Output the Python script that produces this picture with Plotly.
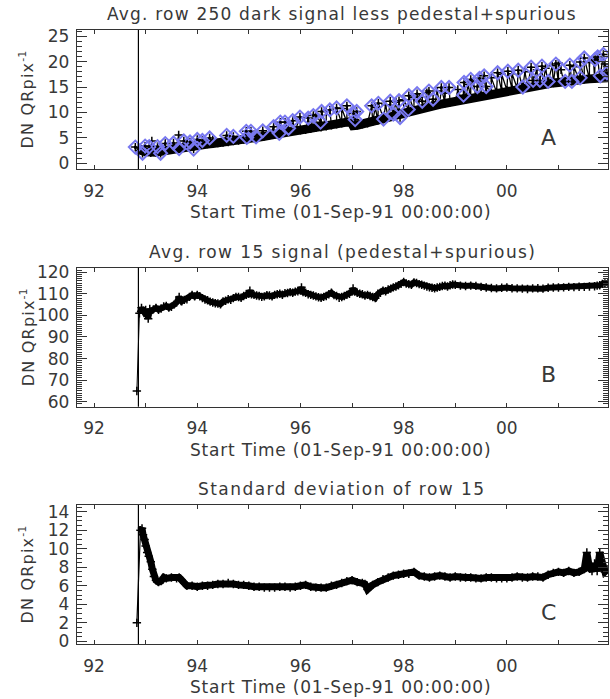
import plotly.graph_objects as go
from plotly.subplots import make_subplots

# ---------------- data ----------------
# Panel A: dark signal band (black) and flagged points (blue diamonds)
a_band_year = [92.86, 92.9, 93.0, 93.1, 93.2, 93.3, 93.4, 93.5, 93.6, 93.7, 93.8, 93.9, 94.0, 94.1, 94.2, 94.3,
               94.4, 94.5, 94.6, 94.7, 94.8, 94.9, 95.0, 95.1, 95.2, 95.3, 95.4, 95.5, 95.6, 95.7,
               95.8, 95.9, 96.0, 96.1, 96.2, 96.3, 96.4, 96.5, 96.6, 96.7, 96.8, 96.9, 96.98, 97.02,
               97.1, 97.2, 97.3, 97.4, 97.5, 97.6, 97.7, 97.8, 97.9, 98.0, 98.1, 98.2, 98.3, 98.4,
               98.5, 98.6, 98.7, 98.8, 98.9, 99.0, 99.1, 99.2, 99.3, 99.4, 99.5, 99.6, 99.7, 99.8,
               99.9, 100.0, 100.1, 100.2, 100.3, 100.4, 100.5, 100.6, 100.7, 100.8, 100.9, 101.0,
               101.1, 101.2, 101.3, 101.4, 101.5, 101.6, 101.7, 101.8, 101.9, 101.96]
a_band_val = [3.0, 2.6, 2.3, 2.1, 2.2, 2.4, 2.6, 2.7, 2.9, 3.1, 3.3, 3.5, 3.6, 3.7, 3.8, 3.9,
              4.0, 4.1, 4.2, 4.4, 4.5, 4.7, 4.8, 5.0, 5.2, 5.3, 5.5, 5.7, 5.9, 6.0,
              6.2, 6.4, 6.5, 6.6, 6.8, 7.0, 7.1, 7.3, 7.5, 7.7, 7.9, 8.1, 8.2, 7.4,
              7.5, 7.7, 7.9, 8.2, 8.4, 8.7, 9.0, 9.3, 9.6, 9.9, 10.1, 10.4, 10.6, 10.9,
              11.1, 11.4, 11.6, 11.8, 12.0, 12.2, 12.4, 12.6, 12.8, 13.0, 13.3, 13.5, 13.8, 14.0,
              14.2, 14.4, 14.6, 14.8, 15.0, 15.1, 15.3, 15.4, 15.6, 15.7, 15.8, 15.9,
              16.1, 16.2, 16.3, 16.4, 16.5, 16.6, 16.6, 16.7, 16.8, 16.8]
a_diam_year = [92.80, 92.94, 92.99, 93.07, 93.23, 93.29, 93.38, 93.54, 93.65, 93.74, 93.86, 93.93,
               94.00, 94.10, 94.24, 94.57, 94.70, 94.95, 94.96, 95.04, 95.14, 95.27, 95.48, 95.59,
               95.61, 95.70, 95.77, 95.85, 95.99, 96.15, 96.25, 96.39, 96.41, 96.57, 96.70, 96.90,
               97.03, 97.06, 97.09, 97.38, 97.51, 97.61, 97.74, 97.80, 97.91, 97.93, 98.09, 98.10,
               98.26, 98.36, 98.49, 98.57, 98.73, 98.88, 99.16, 99.17, 99.30, 99.43, 99.47, 99.56,
               99.60, 99.82, 100.02, 100.22, 100.31, 100.47, 100.51, 100.64, 100.68, 100.80, 100.95,
               101.13, 101.22, 101.26, 101.42, 101.42, 101.50, 101.71, 101.76, 101.81, 101.87, 101.94]
a_diam_val = [3.2, 2.0, 3.4, 3.3, 3.3, 2.0, 3.9, 4.0, 2.9, 4.4, 4.2, 2.8,
              4.7, 4.5, 5.0, 5.5, 5.3, 6.3, 5.1, 6.3, 5.2, 6.4, 7.2, 5.9,
              8.1, 8.1, 6.9, 8.4, 9.1, 8.9, 9.4, 8.1, 10.2, 10.5, 10.9, 11.3,
              9.8, 8.6, 10.2, 11.3, 11.8, 8.7, 12.2, 9.7, 12.3, 9.0, 10.6, 13.3,
              13.7, 12.2, 14.2, 12.6, 14.9, 14.9, 13.4, 15.9, 16.5, 15.1, 16.7, 17.2,
              15.1, 17.8, 18.1, 18.3, 15.0, 18.9, 16.3, 16.3, 19.1, 16.1, 19.5,
              16.1, 19.3, 16.1, 16.8, 19.9, 20.7, 20.4, 20.9, 17.2, 21.4, 17.8]
# black points above the band that carry no diamond
a_spike_year = [93.12, 93.64, 93.80, 94.30, 96.30, 96.50, 96.80, 97.45, 97.65, 97.85, 98.00, 98.20,
                98.30, 98.45, 98.65, 98.80, 99.05, 99.25, 99.35, 99.50, 99.70, 99.90, 100.10, 100.35,
                100.58, 100.75, 100.88, 101.00, 101.05, 101.30, 101.60, 101.68, 101.90]
a_spike_val = [4.4, 5.6, 4.0, 4.6, 9.6, 10.2, 10.8, 11.0, 11.5, 12.0, 12.5, 13.0,
               13.0, 13.9, 14.2, 13.8, 14.5, 15.5, 16.0, 15.8, 16.8, 17.5, 17.6, 18.0,
               18.4, 18.7, 19.2, 19.7, 18.4, 19.0, 19.8, 20.2, 19.5]

# Panel B: average row 15 signal
b_year = [92.83, 92.88, 92.92, 92.97, 93.0, 93.05, 93.08, 93.1, 93.15, 93.2, 93.25, 93.3, 93.35, 93.4,
          93.45, 93.5, 93.55, 93.6, 93.65, 93.7, 93.75, 93.8, 93.85, 93.9, 93.95, 94.0, 94.05, 94.1,
          94.15, 94.2, 94.25, 94.3, 94.35, 94.4, 94.45, 94.5, 94.55, 94.6, 94.65, 94.7, 94.75, 94.8,
          94.85, 94.9, 94.95, 95.0, 95.02, 95.05, 95.1, 95.15, 95.2, 95.25, 95.3, 95.35, 95.4, 95.45,
          95.5, 95.55, 95.6, 95.65, 95.7, 95.75, 95.8, 95.85, 95.9, 95.95, 96.0, 96.02, 96.05, 96.1,
          96.15, 96.2, 96.25, 96.3, 96.35, 96.4, 96.45, 96.5, 96.55, 96.6, 96.65, 96.7, 96.75, 96.8,
          96.85, 96.9, 96.95, 97.0, 97.02, 97.05, 97.1, 97.15, 97.2, 97.25, 97.3, 97.35, 97.4, 97.45,
          97.5, 97.55, 97.6, 97.65, 97.7, 97.75, 97.8, 97.85, 97.9, 97.95, 98.0, 98.05, 98.1, 98.15,
          98.2, 98.25, 98.3, 98.35, 98.4, 98.45, 98.5, 98.55, 98.6, 98.65, 98.7, 98.75, 98.8, 98.85,
          98.9, 98.95, 99.0, 99.1, 99.2, 99.3, 99.4, 99.5, 99.6, 99.7, 99.8, 99.9, 100.0, 100.1,
          100.2, 100.3, 100.4, 100.5, 100.6, 100.7, 100.8, 100.9, 101.0, 101.1, 101.2, 101.3,
          101.4, 101.5, 101.6, 101.7, 101.75, 101.8, 101.85, 101.9, 101.96]
b_val = [65.0, 101.0, 103.5, 101.5, 102.5, 98.5, 103.0, 101.8, 102.8, 103.5, 102.6, 103.2, 104.2, 104.4,
         103.6, 104.0, 105.0, 106.0, 108.5, 106.5, 107.2, 107.5, 108.6, 109.5, 108.8, 109.5, 108.9, 108.0,
         107.4, 107.0, 106.4, 106.0, 105.6, 105.5, 105.2, 106.5, 106.8, 107.5, 107.2, 108.0, 108.6, 108.5,
         108.2, 109.0, 109.6, 110.0, 111.5, 109.8, 109.5, 109.2, 109.0, 108.6, 108.8, 109.4, 109.2, 108.8,
         109.5, 109.8, 110.0, 109.6, 110.3, 110.4, 110.8, 110.5, 111.0, 111.2, 111.5, 113.0, 110.8, 110.5,
         109.8, 109.5, 109.2, 108.8, 108.4, 108.2, 108.6, 109.0, 109.8, 110.5, 109.4, 109.0, 108.2, 108.5,
         109.0, 109.5, 110.0, 111.0, 112.5, 111.0, 110.5, 110.0, 109.8, 109.2, 109.5, 109.0, 108.5, 108.0,
         110.0, 110.5, 111.5, 111.2, 112.0, 112.4, 113.0, 113.4, 114.0, 114.6, 115.5, 114.8, 114.5, 114.2,
         115.3, 115.0, 114.5, 114.2, 113.8, 113.4, 113.0, 112.8, 112.6, 112.9, 113.2, 113.6, 113.8, 113.4,
         114.0, 114.3, 114.2, 113.8, 113.6, 113.8, 113.7, 113.2, 112.9, 112.7, 112.5, 112.8, 112.9, 112.6,
         112.5, 112.4, 112.2, 112.5, 112.6, 112.4, 112.8, 112.9, 112.9, 113.0, 113.2, 113.1,
         113.3, 113.2, 113.4, 113.5, 113.8, 114.0, 114.6, 114.8, 115.0]

# Panel C: standard deviation of row 15
c_year = [92.83, 92.90, 92.93, 92.95, 92.98, 93.0, 93.03, 93.06, 93.1, 93.13, 93.16, 93.2, 93.25, 93.3,
          93.35, 93.4, 93.5, 93.6, 93.65, 93.7, 93.75, 93.8, 93.9, 94.0, 94.1, 94.2, 94.3, 94.4,
          94.5, 94.6, 94.7, 94.8, 94.9, 95.0, 95.1, 95.2, 95.3, 95.4, 95.5, 95.6, 95.7, 95.8,
          95.9, 96.0, 96.1, 96.2, 96.3, 96.4, 96.5, 96.6, 96.7, 96.8, 96.9, 97.0, 97.1, 97.2,
          97.25, 97.3, 97.35, 97.4, 97.5, 97.6, 97.7, 97.8, 97.9, 98.0, 98.1, 98.2, 98.3, 98.4,
          98.5, 98.6, 98.7, 98.8, 98.9, 99.0, 99.1, 99.2, 99.3, 99.4, 99.5, 99.6, 99.7, 99.8,
          99.9, 100.0, 100.1, 100.2, 100.3, 100.4, 100.5, 100.6, 100.7, 100.8, 100.9, 101.0,
          101.1, 101.2, 101.3, 101.4, 101.5, 101.55, 101.6, 101.65, 101.7, 101.75, 101.8, 101.85,
          101.9, 101.96]
c_val = [2.0, 12.0, 12.2, 11.5, 11.0, 10.3, 9.6, 9.2, 8.6, 7.8, 7.0, 6.6, 6.4, 6.5,
         6.9, 6.8, 6.9, 6.8, 6.9, 6.6, 6.3, 6.0, 6.0, 5.9, 6.0, 6.0, 6.1, 6.2,
         6.2, 6.3, 6.2, 6.1, 6.1, 6.0, 5.9, 5.9, 5.8, 5.8, 5.8, 5.9, 5.9, 5.8,
         5.9, 6.0, 6.1, 5.9, 5.8, 5.8, 5.8, 6.0, 6.1, 6.3, 6.5, 6.6, 6.4, 6.3,
         6.2, 5.6, 5.9, 6.1, 6.4, 6.7, 6.9, 7.1, 7.2, 7.3, 7.3, 7.5, 7.1, 7.0,
         6.9, 7.0, 7.1, 7.0, 6.9, 7.0, 6.9, 6.9, 6.9, 6.8, 6.8, 6.9, 6.9, 6.8,
         6.8, 6.8, 6.9, 7.0, 6.9, 6.9, 7.0, 7.0, 6.9, 7.2, 7.4, 7.5,
         7.4, 7.6, 7.4, 7.5, 7.8, 9.6, 8.0, 7.6, 8.4, 7.6, 9.6, 8.2,
         7.5, 7.8]

event_year = 92.86

x_tick_vals = [92, 94, 96, 98, 100]
x_tick_text = ["92", "94", "96", "98", "00"]
x_minor_vals = [93, 95, 97, 99, 101]
x_range = [91.67, 101.96]

panel_titles = ["Avg. row 250 dark signal less pedestal+spurious",
                "Avg. row 15 signal (pedestal+spurious)",
                "Standard deviation of row 15"]
panel_letters = ["A", "B", "C"]
x_title = "Start Time (01-Sep-91 00:00:00)"

y_ranges = [[-1.1, 26.2], [57.7, 122.1], [-0.28, 14.72]]
y_ticks = [[0, 5, 10, 15, 20, 25], [60, 70, 80, 90, 100, 110, 120], [0, 2, 4, 6, 8, 10, 12, 14]]
y_minor = [1, 1, 0.5]

# ---------------- layout helpers ----------------
OFF = 0                      # page body offset (body margin removed below)
W, H = 610, 699
ML, MR, MT, MB = 77, 2, 30, 55
PW, PH = W - ML - MR, H - MT - MB
def py(pix):  # screen row -> paper y
    return (H - MB - (pix - OFF)) / PH
def px(pix):  # screen col -> paper x
    return (pix - OFF - ML) / PW

panel_pix = [(30, 169), (267.7, 406.7), (505, 644)]
domains = [[py(b), py(t)] for (t, b) in panel_pix]

TXT = "#383838"
FONT = "DejaVu Sans"
BLUE = "#7878f0"

def spaced(s, sp):
    return f'<span style="letter-spacing:{sp}px">{s}</span>'

fig = make_subplots(rows=3, cols=1)

# Panel A
spk = sorted(list(zip(a_band_year, a_band_val)) + list(zip(a_diam_year, a_diam_val))
             + list(zip(a_spike_year, a_spike_val)))
fig.add_trace(go.Scatter(x=a_band_year, y=a_band_val, mode="lines",
                         line=dict(color="black", width=9), hoverinfo="skip"), row=1, col=1)
fig.add_trace(go.Scatter(x=[p[0] for p in spk], y=[p[1] for p in spk], mode="lines+markers",
                         line=dict(color="black", width=1.3),
                         marker=dict(symbol="cross-thin", size=6, line=dict(color="black", width=1.5))),
              row=1, col=1)
fig.add_trace(go.Scatter(x=a_diam_year, y=a_diam_val, mode="markers",
                         marker=dict(symbol="diamond-open", size=10, color=BLUE, line=dict(color=BLUE, width=2))),
              row=1, col=1)
fig.add_trace(go.Scatter(x=a_diam_year, y=a_diam_val, mode="markers",
                         marker=dict(symbol="circle", size=3, color="black")), row=1, col=1)

# Panel B
fig.add_trace(go.Scatter(x=b_year[1:], y=b_val[1:], mode="lines",
                         line=dict(color="black", width=6), hoverinfo="skip"), row=2, col=1)
fig.add_trace(go.Scatter(x=b_year, y=b_val, mode="lines+markers",
                         line=dict(color="black", width=1),
                         marker=dict(symbol="cross-thin", size=6, line=dict(color="black", width=1.5))),
              row=2, col=1)

# Panel C
fig.add_trace(go.Scatter(x=c_year[1:], y=c_val[1:], mode="lines",
                         line=dict(color="black", width=7), hoverinfo="skip"), row=3, col=1)
fig.add_trace(go.Scatter(x=c_year, y=c_val, mode="lines+markers",
                         line=dict(color="black", width=1.2),
                         marker=dict(symbol="cross-thin", size=6, line=dict(color="black", width=1.5))),
              row=3, col=1)

title_spacing = [1.2, 1.4, 1.45]
for i in range(3):
    r = i + 1
    fig.update_xaxes(row=r, col=1, range=x_range, tickmode="array", tickvals=x_tick_vals,
                     ticktext=x_tick_text, ticks="inside", ticklen=4, tickwidth=1, tickcolor="#333",
                     mirror="allticks", showline=True, linecolor="#333", linewidth=1.3,
                     showgrid=False, zeroline=False,
                     tickfont=dict(family=FONT, size=17, color=TXT), ticklabelstandoff=6,
                     minor=dict(tickmode="array", tickvals=x_minor_vals, ticks="inside", ticklen=4,
                                tickcolor="#333", showgrid=False))
    fig.update_yaxes(row=r, col=1, range=y_ranges[i], tickmode="array", tickvals=y_ticks[i],
                     ticks="inside", ticklen=10, tickwidth=1, tickcolor="#333",
                     mirror="allticks", showline=True, linecolor="#333", linewidth=1.3,
                     showgrid=False, zeroline=False, domain=domains[i],
                     tickfont=dict(family=FONT, size=17, color=TXT), ticklabelstandoff=3,
                     minor=dict(dtick=y_minor[i], tick0=0, ticks="inside", ticklen=5,
                                tickcolor="#333", showgrid=False))
    xa = "x" if r == 1 else f"x{r}"
    ya = "y" if r == 1 else f"y{r}"
    fig.add_shape(type="line", xref=xa, yref=f"{ya} domain", x0=event_year, x1=event_year,
                  y0=0, y1=1, line=dict(color="black", width=1.2))
    top, bot = panel_pix[i]
    fig.add_annotation(text=spaced(panel_titles[i], title_spacing[i]), xref="paper", yref="paper",
                       x=px(342), y=py(top - 16),
                       xanchor="center", yanchor="middle", showarrow=False,
                       font=dict(family=FONT, size=17, color=TXT))
    fig.add_annotation(text=spaced(x_title, 0.8), xref="paper", yref="paper", x=px(340), y=py(bot + 43),
                       xanchor="center", yanchor="middle", showarrow=False,
                       font=dict(family=FONT, size=17, color=TXT))
    fig.add_annotation(text=spaced("DN QRpix", 1.2) + "<sup>-1</sup>", xref="paper", yref="paper",
                       x=px(27), y=py((top + bot) / 2),
                       xanchor="center", yanchor="middle", showarrow=False, textangle=-90,
                       font=dict(family=FONT, size=16, color=TXT))
    fig.add_annotation(text=panel_letters[i], xref="paper", yref="paper", x=px(548),
                       y=py(bot - 32), xanchor="center", yanchor="middle", showarrow=False,
                       font=dict(family=FONT, size=22, color=TXT))

fig.update_layout(width=W, height=H, margin=dict(l=ML, r=MR, t=MT, b=MB),
                  plot_bgcolor="white", paper_bgcolor="white", showlegend=False)

fig.write_html("out.html", config={"displayModeBar": False},
               post_script="document.body.style.margin='0';document.body.style.overflow='hidden';")
